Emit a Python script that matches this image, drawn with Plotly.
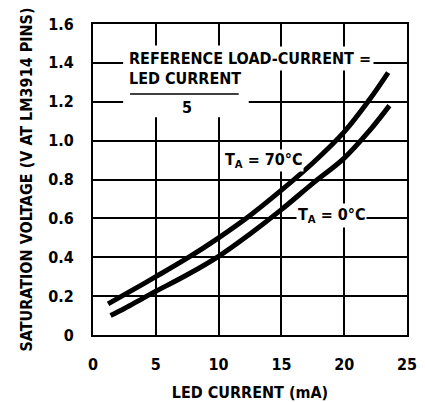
import plotly.graph_objects as go

# LED current (mA) and saturation voltage (V)
x_70 = [1.2, 2.5, 5.0, 7.5, 10.0, 12.5, 15.0, 17.5, 20.0, 22.0, 23.5]
y_70 = [0.16, 0.208, 0.30, 0.395, 0.50, 0.615, 0.745, 0.885, 1.045, 1.21, 1.35]

x_0 = [1.4, 2.5, 4.0, 5.0, 7.5, 10.0, 12.5, 15.0, 17.5, 20.0, 22.0, 23.6]
y_0 = [0.10, 0.136, 0.19, 0.225, 0.31, 0.405, 0.52, 0.645, 0.78, 0.91, 1.05, 1.18]

x_ticks = [0, 5, 10, 15, 20, 25]
y_ticks = [0, 0.2, 0.4, 0.6, 0.8, 1.0, 1.2, 1.4, 1.6]
y_tick_text = ["0", "0.2", "0.4", "0.6", "0.8", "1.0", "1.2", "1.4", "1.6"]

FONT = "DejaVu Sans Condensed"

fig = go.Figure()
fig.add_trace(go.Scatter(x=x_70, y=y_70, mode="lines", line=dict(color="black", width=5, shape="spline"),
                         showlegend=False, hoverinfo="skip"))
fig.add_trace(go.Scatter(x=x_0, y=y_0, mode="lines", line=dict(color="black", width=5, shape="spline"),
                         showlegend=False, hoverinfo="skip"))

# white patch behind the formula block (gridlines are interrupted there)
fig.add_shape(type="rect", x0=2.4, x1=12.4, y0=1.12, y1=1.49, fillcolor="white",
              line=dict(width=0), layer="above")
fig.add_shape(type="line", x0=2.95, x1=11.6, y0=1.24, y1=1.24, line=dict(color="black", width=1.5),
              layer="above")

ann_font = dict(family=FONT, size=16, color="black")
fig.add_annotation(x=2.6, y=1.425, text="<b>REFERENCE LOAD-CURRENT =</b>", showarrow=False,
                   xanchor="left", yanchor="middle", bgcolor="white", font=ann_font, borderpad=2)
fig.add_annotation(x=2.6, y=1.32, text="<b>LED CURRENT</b>", showarrow=False,
                   xanchor="left", yanchor="middle", font=ann_font, borderpad=2)
fig.add_annotation(x=7.5, y=1.17, text="<b>5</b>", showarrow=False, xanchor="center", yanchor="middle",
                   font=ann_font, borderpad=2)
fig.add_annotation(x=10.4, y=0.9, text="<b>T<sub>A</sub> = 70°C</b>", showarrow=False,
                   xanchor="left", yanchor="middle", bgcolor="white", font=ann_font, borderpad=0)
fig.add_annotation(x=16.2, y=0.615, text="<b>T<sub>A</sub> = 0°C</b>", showarrow=False,
                   xanchor="left", yanchor="middle", bgcolor="white", font=ann_font, borderpad=1)

fig.update_xaxes(range=[0, 25], tickvals=x_ticks, showgrid=True, gridcolor="black", gridwidth=1.5,
                 zeroline=False, showline=True, linecolor="black", linewidth=2, mirror=True,
                 ticks="", ticklabelstandoff=14, automargin=False,
                 tickfont=dict(family=FONT, size=16, color="black", weight="bold"),
                 title=dict(text="<b>LED CURRENT (mA)</b>", standoff=24,
                            font=dict(family=FONT, size=16, color="black")))
fig.update_yaxes(range=[0, 1.6], tickvals=y_ticks, ticktext=y_tick_text, showgrid=True, gridcolor="black",
                 gridwidth=1.5, zeroline=False, showline=True, linecolor="black", linewidth=2, mirror=True,
                 ticks="", ticklabelstandoff=14, automargin=False,
                 tickfont=dict(family=FONT, size=16, color="black", weight="bold"),
                 title=dict(text="<b>SATURATION VOLTAGE (V AT LM3914 PINS)</b>", standoff=12,
                            font=dict(family=FONT, size=16, color="black")))

# page body has an 8px margin; figure sized so the plot area lands where the reference has it
fig.update_layout(width=417, height=394, margin=dict(l=85, r=18, t=16, b=67),
                  plot_bgcolor="white", paper_bgcolor="white")

fig.write_html("out.html")
